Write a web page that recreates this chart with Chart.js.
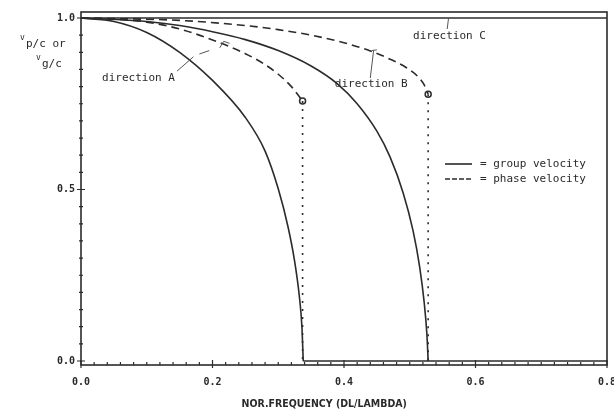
<!DOCTYPE html>
<html>
<head>
<meta charset="utf-8">
<script src="https://cdn.jsdelivr.net/npm/chart.js@4/dist/chart.umd.min.js"></script>
<style>
    html, body { margin: 0; padding: 0; background: #fff; }
    #wrap { width: 614px; height: 414px; }
</style>
</head>
<body>
<div id="wrap"><canvas id="velChart" width="614" height="414"></canvas></div>
<script>
// values (x = normalised frequency, y = v/c)
var groupA_x = [0, 0.05, 0.10, 0.15, 0.20, 0.25, 0.28, 0.30, 0.315, 0.325, 0.332, 0.336, 0.338];
var groupA_y = [1.0, 0.990, 0.958, 0.900, 0.818, 0.710, 0.612, 0.502, 0.390, 0.290, 0.190, 0.100, 0.0];
var phaseA_x = [0, 0.05, 0.10, 0.15, 0.20, 0.25, 0.28, 0.30, 0.32, 0.337];
var phaseA_y = [1.0, 0.997, 0.988, 0.968, 0.936, 0.896, 0.864, 0.836, 0.800, 0.758];
var groupB_x = [0, 0.10, 0.15, 0.20, 0.25, 0.30, 0.35, 0.39, 0.42, 0.45, 0.47, 0.49, 0.505, 0.515, 0.522, 0.526, 0.528];
var groupB_y = [1.0, 0.990, 0.978, 0.960, 0.937, 0.905, 0.860, 0.808, 0.750, 0.670, 0.595, 0.490, 0.380, 0.275, 0.170, 0.080, 0.0];
var phaseB_x = [0, 0.15, 0.25, 0.30, 0.35, 0.40, 0.44, 0.47, 0.495, 0.512, 0.522, 0.528];
var phaseB_y = [1.0, 0.993, 0.978, 0.966, 0.950, 0.928, 0.904, 0.880, 0.855, 0.830, 0.805, 0.778];
var dirC_x = [0, 0.8];
var dirC_y = [1.0, 1.0];
var cutoff_x = [0.338, 0.8];
var cutoff_y = [0, 0];
var dropA_x = [0.337, 0.337];
var dropA_y = [0.758, 0];
var dropB_x = [0.528, 0.528];
var dropB_y = [0.778, 0];
var marks_x = [0.337, 0.528];
var marks_y = [0.758, 0.778];
var xTicks = [0, 0.2, 0.4, 0.6, 0.8];
var yTicks = [0, 0.5, 1.0];
var xTitle = 'NOR.FREQUENCY (DL/LAMBDA)';

var INK = '#2b2b2b';
var MONO = "'DejaVu Sans Mono', 'Liberation Mono', monospace";

var pts = function(xs, ys) {
    return xs.map(function(x, i) { return { x: x, y: ys[i] }; });
};

var line = function(xs, ys, dash, smooth) {
    return {
        data: pts(xs, ys),
        showLine: true,
        borderColor: INK,
        borderWidth: 1.6,
        borderDash: dash || [],
        pointRadius: 0,
        cubicInterpolationMode: smooth ? 'monotone' : 'default',
        tension: 0
    };
};

// labels and pointers, placed in data units
var notes = [
    { text: 'direction A', x: 0.032, y: 0.815 },
    { text: 'direction B', x: 0.386, y: 0.800 },
    { text: 'direction C', x: 0.505, y: 0.940 }
];
var pointers = [
    [[0.146, 0.845], [0.171, 0.887]],
    [[0.180, 0.895], [0.195, 0.905]],
    [[0.211, 0.913], [0.217, 0.932]],
    [[0.217, 0.932], [0.226, 0.926]],
    [[0.440, 0.825], [0.445, 0.905]],
    [[0.442, 0.905], [0.450, 0.907]],
    [[0.557, 0.968], [0.559, 1.0]]
];

var frameTicks = {
    id: 'frameTicks',
    afterDatasetsDraw: function(chart) {
        var ctx = chart.ctx, a = chart.chartArea;
        var xs = chart.scales.x, ys = chart.scales.y;
        ctx.save();
        ctx.strokeStyle = INK;
        ctx.lineWidth = 1.6;
        ctx.strokeRect(a.left, a.top, a.right - a.left, a.bottom - a.top);

        ctx.lineWidth = 1.2;
        ctx.beginPath();
        for (var i = 0; i <= 40; i++) {
            var px = xs.getPixelForValue(i * 0.02);
            var major = i % 10 === 0;
            ctx.moveTo(px, a.bottom + (major ? 3 : 0));
            ctx.lineTo(px, a.bottom - (major ? 5 : 3));
        }
        for (var j = 0; j <= 20; j++) {
            var py = ys.getPixelForValue(j * 0.05);
            var maj = j % 10 === 0;
            ctx.moveTo(a.left - (maj ? 4 : 2), py);
            ctx.lineTo(a.left + (maj ? 4 : 2), py);
        }
        ctx.stroke();

        // annotations
        ctx.fillStyle = '#2a2a2a';
        ctx.font = '11px ' + MONO;
        ctx.textBaseline = 'alphabetic';
        notes.forEach(function(n) {
            ctx.fillText(n.text, xs.getPixelForValue(n.x), ys.getPixelForValue(n.y));
        });
        ctx.lineWidth = 1;
        ctx.strokeStyle = '#555';
        ctx.beginPath();
        pointers.forEach(function(p) {
            ctx.moveTo(xs.getPixelForValue(p[0][0]), ys.getPixelForValue(p[0][1]));
            ctx.lineTo(xs.getPixelForValue(p[1][0]), ys.getPixelForValue(p[1][1]));
        });
        ctx.stroke();

        // legend
        ctx.strokeStyle = INK;
        ctx.lineWidth = 1.6;
        ctx.beginPath();
        ctx.moveTo(445, 164); ctx.lineTo(472, 164);
        ctx.stroke();
        ctx.setLineDash([5, 2]);
        ctx.beginPath();
        ctx.moveTo(445, 179); ctx.lineTo(472, 179);
        ctx.stroke();
        ctx.setLineDash([]);
        ctx.textBaseline = 'middle';
        ctx.fillText('= group velocity', 480, 164);
        ctx.fillText('= phase velocity', 480, 179);

        // y axis title with subscripts
        ctx.textBaseline = 'alphabetic';
        ctx.font = '8px ' + MONO;
        ctx.fillText('v', 20, 40);
        ctx.fillText('v', 36, 60);
        ctx.font = '11px ' + MONO;
        ctx.fillText('p/c or', 26, 47);
        ctx.fillText('g/c', 42, 67);

        // x axis title (sits a bit left of the plot centre in the original)
        ctx.font = "bold 10.5px 'DejaVu Sans Condensed', 'Liberation Sans Narrow', sans-serif";
        ctx.textAlign = 'center';
        ctx.textBaseline = 'middle';
        ctx.fillText(xTitle, xs.getPixelForValue(0.37), 404);
        ctx.restore();
    }
};

var fixBox = function(w, h) {
    return function(scale) {
        if (w) scale.width = w;
        if (h) scale.height = h;
        scale.paddingLeft = 0;
        scale.paddingRight = 0;
        scale.paddingTop = 0;
        scale.paddingBottom = 0;
    };
};

new Chart(document.getElementById('velChart'), {
    type: 'scatter',
    data: {
        datasets: [
            line(groupA_x, groupA_y, null, true),
            line(phaseA_x, phaseA_y, [8, 5], true),
            line(groupB_x, groupB_y, null, true),
            line(phaseB_x, phaseB_y, [8, 5], true),
            line(dirC_x, dirC_y),
            line(cutoff_x, cutoff_y),
            line(dropA_x, dropA_y, [2, 6]),
            line(dropB_x, dropB_y, [2, 6]),
            {
                data: pts(marks_x, marks_y),
                pointRadius: 3,
                pointBackgroundColor: '#fff',
                pointBorderColor: INK,
                pointBorderWidth: 1.5
            }
        ]
    },
    options: {
        responsive: false,
        animation: false,
        layout: { padding: { top: 12, right: 7, bottom: 0, left: 0 } },
        plugins: { legend: { display: false }, tooltip: { enabled: false } },
        scales: {
            x: {
                type: 'linear',
                min: 0,
                max: 0.8,
                grid: { display: false, drawTicks: false },
                border: { display: false },
                afterBuildTicks: function(s) { s.ticks = xTicks.map(function(v) { return { value: v }; }); },
                afterFit: fixBox(null, 49),
                ticks: {
                    padding: 11,
                    color: '#2a2a2a',
                    font: { family: MONO, size: 10, weight: 'bold' },
                    maxRotation: 0,
                    callback: function(v) { return v.toFixed(1); }
                }
            },
            y: {
                type: 'linear',
                min: -0.0117,
                max: 1.0175,
                grid: { display: false, drawTicks: false },
                border: { display: false },
                afterBuildTicks: function(s) { s.ticks = yTicks.map(function(v) { return { value: v }; }); },
                afterFit: fixBox(81, null),
                ticks: {
                    padding: 6,
                    color: '#2a2a2a',
                    font: { family: MONO, size: 10, weight: 'bold' },
                    callback: function(v) { return v.toFixed(1); }
                }
            }
        }
    },
    plugins: [frameTicks]
});
</script>
</body>
</html>
